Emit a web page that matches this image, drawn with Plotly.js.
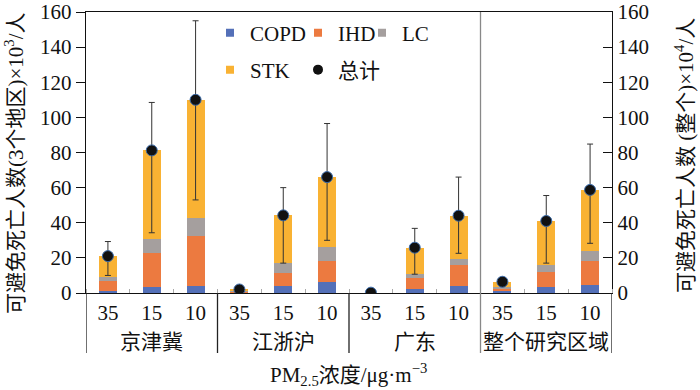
<!DOCTYPE html>
<html>
<head>
<meta charset="utf-8">
<script src="https://cdn.plot.ly/plotly-3.0.1.min.js"></script>
<style>html,body{margin:0;padding:0;background:#fff;}#chart{width:700px;height:390px;}</style>
</head>
<body>
<div id="chart"></div>
<script>
// ---- data ----
const groups = ["京津冀", "江浙沪", "广东", "整个研究区域"];
const levels = ["35", "15", "10"];
const tickLabels = ["35","15","10","35","15","10","35","15","10","35","15","10"];
const copd = [1.3, 3.4, 4.2, 0.2, 4.2, 6.2, 0.0, 2.5, 3.8, 0.9, 3.2, 4.5];
const ihd  = [5.3, 19.6, 28.4, 0.5, 7.1, 11.9, 0.0, 6.0, 11.9, 1.4, 8.9, 13.6];
const lc   = [2.5, 7.8, 10.0, 0.2, 5.9, 8.3, 0.0, 2.4, 3.9, 0.9, 3.9, 5.7];
const stk  = [11.9, 50.4, 67.4, 1.1, 27.0, 39.6, 0.0, 14.9, 24.4, 3.2, 25.0, 34.9];
const total = [21, 81.2, 110, 2, 44.2, 66, 0.2, 25.8, 44, 6.4, 41, 58.7];
const errUpper = [29.3, 108.5, 155, 2.6, 60, 96.5, 0.4, 36.8, 66, 7.5, 55.5, 84.8];
const errLower = [10, 34.3, 53, 1.4, 17, 30, 0.0, 10.7, 22.6, 5.3, 17, 28.3];
const leftTitle = "可避免死亡人数(3个地区)×10<sup>3</sup>/人";
const rightTitle = "可避免死亡人数 (整个)×10<sup>4</sup>/人";
const xTitle = "PM<sub>2.5</sub>浓度/μg·m<sup>−3</sup>";

// ---- styling ----
const colors = {COPD: "#5470b8", IHD: "#ec7a40", LC: "#a59f9e", STK: "#f9b233"};
const serif = "Liberation Serif, Times New Roman, Noto Sans CJK SC, serif";
const xIdx = tickLabels.map((_, i) => i);

const barW = 0.41;
const traces = [];
[["COPD", copd], ["IHD", ihd], ["LC", lc], ["STK", stk]].forEach(([name, vals]) => {
  traces.push({type: "bar", x: xIdx, y: vals, name: name, width: barW,
    marker: {color: colors[name], line: {width: 0}}, showlegend: false, hoverinfo: "y"});
});
traces.push({type: "scatter", mode: "markers", x: xIdx, y: total, name: "总计", showlegend: false,
  marker: {color: "#111", size: 11, line: {color: "#3a6aa8", width: 1}},
  error_y: {type: "data", symmetric: false,
    array: total.map((t, i) => errUpper[i] - t),
    arrayminus: total.map((t, i) => t - errLower[i]),
    color: "#333", thickness: 1, width: 3}});

// legend-only entries (small square symbols)
const legendDefs = [
  ["COPD", "square", colors.COPD, 8, "legend"],
  ["IHD", "square", colors.IHD, 8, "legend2"],
  ["LC", "square", colors.LC, 8, "legend3"],
  ["STK", "square", colors.STK, 8, "legend4"],
  ["总计", "circle", "#111", 10, "legend5"]
];
legendDefs.forEach(([name, sym, col, sz, lg]) => {
  traces.push({type: "scatter", mode: "markers", x: [null], y: [null], name: name,
    legend: lg, showlegend: true,
    marker: {symbol: sym, color: col, size: sz, line: {width: 0}}});
});

const plotH = 281, plotW = 526, ml = 86, mt = 12;
const px2x = p => (p - ml) / plotW;
const py2y = p => (mt + plotH - p) / plotH;
const below = -60 / plotH;
const shapes = [];
[-0.5, 2.5, 5.5, 11.5].forEach(xv => {
  shapes.push({type: "line", xref: "x", yref: "paper", x0: xv, x1: xv, y0: below, y1: 0,
    line: {color: "#222", width: 1.3}});
});
shapes.push({type: "line", xref: "x", yref: "paper", x0: 8.5, x1: 8.5, y0: below, y1: 1,
  line: {color: "#888", width: 1.3}});

const tf = {family: serif, size: 21, color: "#111"};
const annotations = groups.map((g, i) => ({
  text: g, xref: "x", yref: "paper", x: i * 3 + 1, y: -49 / plotH,
  showarrow: false, yanchor: "middle", font: tf
}));
annotations.push({text: leftTitle, xref: "paper", yref: "paper", x: px2x(15), y: py2y(163),
  textangle: -90, showarrow: false, xanchor: "center", yanchor: "middle", font: tf});
annotations.push({text: rightTitle, xref: "paper", yref: "paper", x: px2x(684), y: py2y(156),
  textangle: -90, showarrow: false, xanchor: "center", yanchor: "middle", font: tf});
annotations.push({text: xTitle, xref: "paper", yref: "paper", x: px2x(348), y: py2y(374),
  showarrow: false, xanchor: "center", yanchor: "middle", font: tf});

const lf = {family: serif, size: 21, color: "#111"};
function lgd(xp, yp) {
  return {x: xp, y: yp, xanchor: "left", yanchor: "middle", orientation: "h",
    bgcolor: "rgba(0,0,0,0)", borderwidth: 0, font: lf, itemclick: false};
}

const layout = {
  width: 700, height: 390,
  margin: {l: 86, r: 88, t: 12, b: 97},
  paper_bgcolor: "#fff", plot_bgcolor: "#fff",
  barmode: "stack",
  font: {family: serif, size: 20, color: "#111"},
  xaxis: {range: [-0.5, 11.5], tickmode: "array", tickvals: xIdx, ticktext: tickLabels,
    ticks: "", showgrid: false, zeroline: false, showline: true, mirror: true,
    linecolor: "#111", linewidth: 1.3, tickfont: {family: serif, size: 21, color: "#111"},
    minor: {tickmode: "linear", tick0: 0.5, dtick: 1, ticks: "inside", ticklen: 4, tickcolor: "#aaa", showgrid: false},
    automargin: false, fixedrange: true},
  yaxis: {range: [0, 160], dtick: 20, ticks: "outside", ticklen: 9, tickcolor: "#111",
    showgrid: false, zeroline: false, showline: true, linecolor: "#111", linewidth: 1.3,
    tickfont: {family: serif, size: 21, color: "#111"},
    automargin: false, fixedrange: true},
  yaxis2: {range: [0, 160], dtick: 20, overlaying: "y", side: "right", ticks: "inside", ticklen: 9,
    tickcolor: "#111", showgrid: false, zeroline: false, showline: true, linecolor: "#111", linewidth: 1.3,
    tickfont: {family: serif, size: 21, color: "#111"},
    automargin: false, fixedrange: true},
  showlegend: true,
  legend: lgd(px2x(230 - 20), py2y(33)),
  legend2: lgd(px2x(318 - 20), py2y(33)),
  legend3: lgd(px2x(382 - 20), py2y(33)),
  legend4: lgd(px2x(230 - 20), py2y(70)),
  legend5: lgd(px2x(318 - 20), py2y(70)),
  shapes: shapes,
  annotations: annotations
};

// invisible trace to activate yaxis2
traces.push({type: "scatter", x: [0], y: [0], yaxis: "y2", mode: "markers",
  marker: {opacity: 0}, showlegend: false, hoverinfo: "skip"});

Plotly.newPlot("chart", traces, layout, {displayModeBar: false, staticPlot: true});
</script>
</body>
</html>
